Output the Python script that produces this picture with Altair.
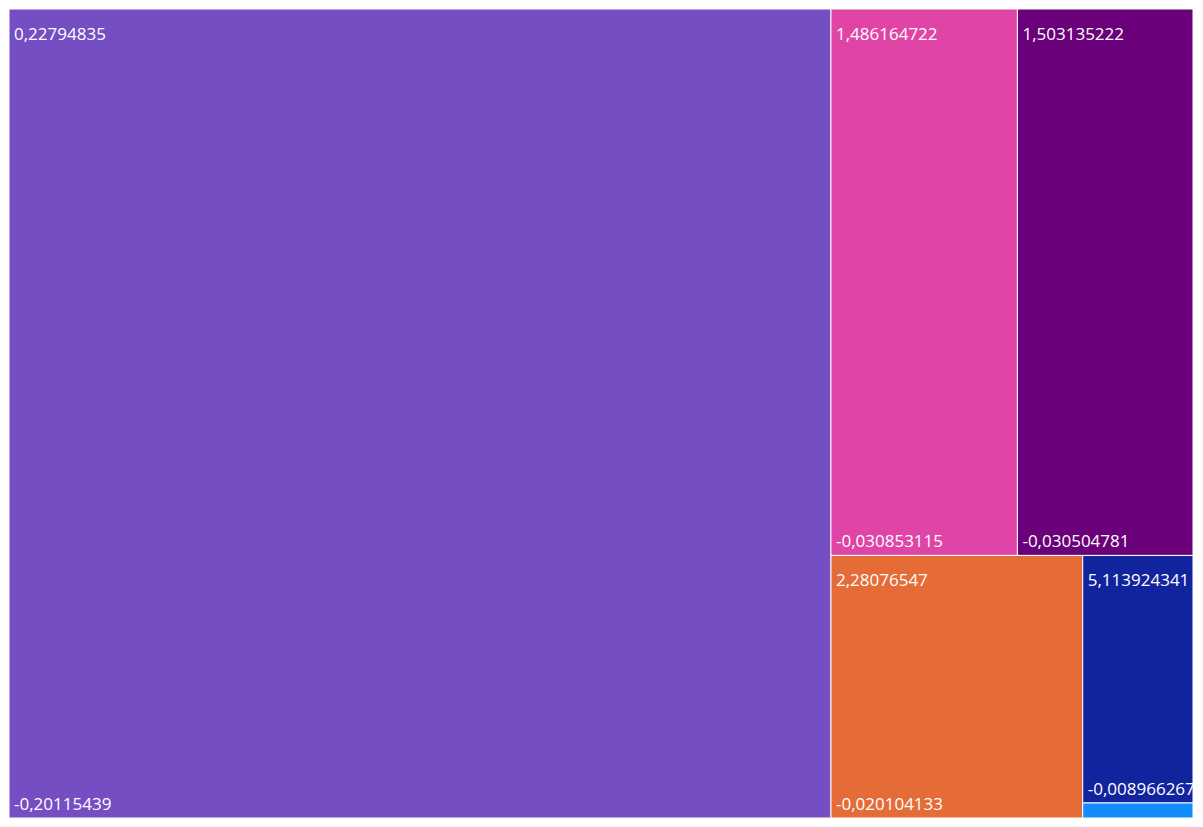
import altair as alt
import pandas as pd

# ---- data ----
names = ["A", "B", "C", "D", "E", "F"]
sizes = [682.0, 104.5, 98.4, 67.8, 28.0, 1.7]          # tile weights (estimated from areas)
top_labels = ["0,22794835", "1,486164722", "1,503135222", "2,28076547", "5,113924341", ""]
bottom_labels = ["-0,20115439", "-0,030853115", "-0,030504781", "-0,020104133", "-0,008966267", ""]
colors = ["#744EC2", "#E044A7", "#6B007B", "#E66C37", "#12239E", "#118DFF"]
row_group = [0, 1, 1, 2, 3, 4]                          # treemap strip grouping

W, H = 1187, 811


def treemap(values, groups, width, height):
    x0, y0, w, h = 0.0, 0.0, float(width), float(height)
    remaining = float(sum(values))
    out = [None] * len(values)
    for g in sorted(set(groups)):
        idx = [i for i in range(len(values)) if groups[i] == g]
        s = sum(values[i] for i in idx)
        if w >= h:
            cw = s / remaining * w
            yy = y0
            for i in idx:
                ih = values[i] / s * h
                out[i] = (x0, x0 + cw, yy, yy + ih)
                yy += ih
            x0 += cw
            w -= cw
        else:
            rh = s / remaining * h
            xx = x0
            for i in idx:
                iw = values[i] / s * w
                out[i] = (xx, xx + iw, y0, y0 + rh)
                xx += iw
            y0 += rh
            h -= rh
        remaining -= s
    return out


rects = treemap(sizes, row_group, W, H)
df = pd.DataFrame({
    "name": names,
    "size": sizes,
    "top": top_labels,
    "bottom": bottom_labels,
    "x0": [r[0] for r in rects],
    "x1": [r[1] for r in rects],
    "y0": [r[2] for r in rects],
    "y1": [r[3] for r in rects],
})

xs = alt.Scale(domain=[0, W], nice=False, zero=False)
ys = alt.Scale(domain=[0, H], nice=False, zero=False, reverse=True)

base = alt.Chart(df)

tiles = base.mark_rect(stroke="white", strokeWidth=1).encode(
    x=alt.X("x0:Q", scale=xs, axis=None),
    x2="x1:Q",
    y=alt.Y("y0:Q", scale=ys, axis=None),
    y2="y1:Q",
    color=alt.Color("name:N", scale=alt.Scale(domain=names, range=colors), legend=None),
)

font = "Segoe UI, Open Sans, sans-serif"

top_text = base.transform_filter("datum.top != ''").mark_text(
    align="left", baseline="alphabetic", dx=5, dy=31, fontSize=17, font=font, color="white"
).encode(
    x=alt.X("x0:Q", scale=xs, axis=None),
    y=alt.Y("y0:Q", scale=ys, axis=None),
    text="top:N",
)

bottom_text = base.transform_filter("datum.bottom != ''").mark_text(
    align="left", baseline="alphabetic", dx=5, dy=-8, fontSize=17, font=font, color="white"
).encode(
    x=alt.X("x0:Q", scale=xs, axis=None),
    y=alt.Y("y1:Q", scale=ys, axis=None),
    text="bottom:N",
)

chart = alt.layer(tiles, top_text, bottom_text).properties(
    width=W,
    height=H,
    padding=0,
    autosize=alt.AutoSizeParams(type="fit", contains="padding"),
).configure_view(stroke=None)

chart.save("out.html", embed_options={"renderer": "svg", "actions": False})
